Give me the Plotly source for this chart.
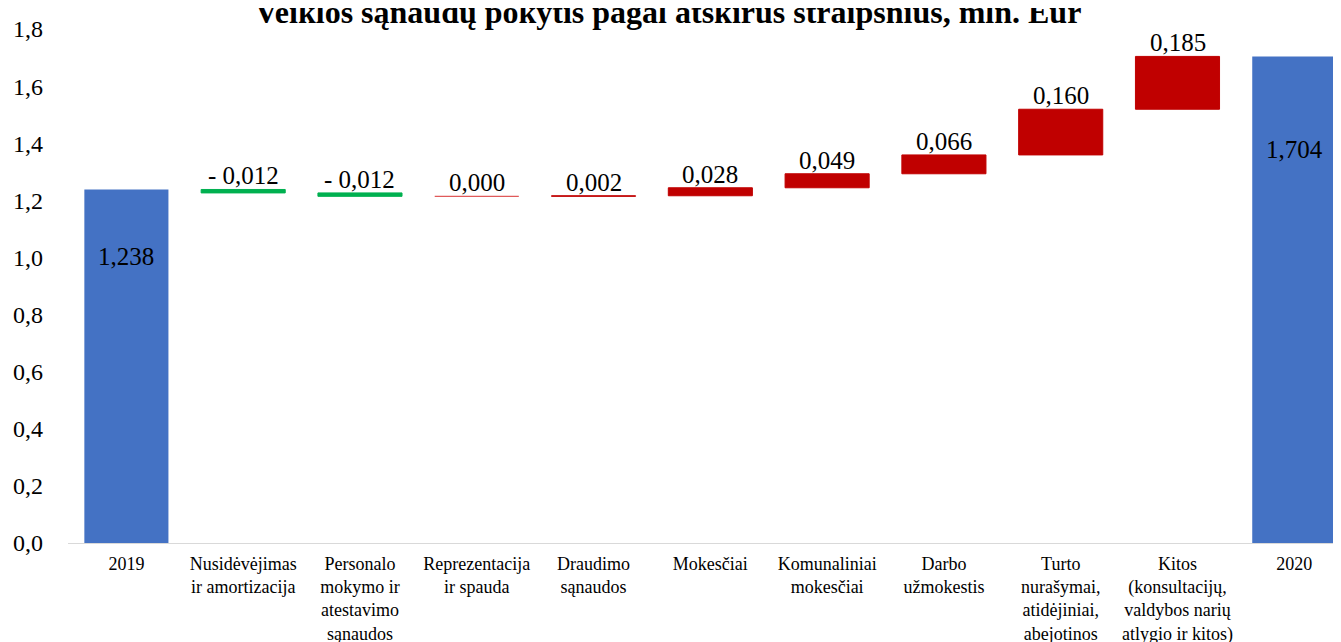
import plotly.graph_objects as go

categories = [
    "2019",
    "Nusidėvėjimas<br>ir amortizacija",
    "Personalo<br>mokymo ir<br>atestavimo<br>sąnaudos",
    "Reprezentacija<br>ir spauda",
    "Draudimo<br>sąnaudos",
    "Mokesčiai",
    "Komunaliniai<br>mokesčiai",
    "Darbo<br>užmokestis",
    "Turto<br>nurašymai,<br>atidėjiniai,<br>abejotinos",
    "Kitos<br>(konsultacijų,<br>valdybos narių<br>atlygio ir kitos)",
    "2020",
]
start_value = 1.238
changes = [-0.012, -0.012, 0.000, 0.002, 0.028, 0.049, 0.066, 0.160, 0.185]
end_value = 1.704

values = [start_value] + changes + [end_value]
measures = ["absolute"] + ["relative"] * len(changes) + ["total"]

BLUE = "#4472C4"
RED = "#C00000"
GREEN = "#00B050"
FONT = "Liberation Serif, Times New Roman, serif"
BAR_W = 0.72


def fmt(v):
    s = f"{abs(v):.3f}".replace(".", ",")
    return ("- " + s) if v < 0 else s


fig = go.Figure(
    go.Waterfall(
        x=list(range(len(categories))),
        y=values,
        measure=measures,
        width=BAR_W,
        connector=dict(visible=False),
        increasing=dict(marker=dict(color=RED, line=dict(color=RED, width=1))),
        decreasing=dict(marker=dict(color=GREEN, line=dict(color=GREEN, width=1))),
        totals=dict(marker=dict(color=BLUE, line=dict(width=0))),
        hoverinfo="skip",
        showlegend=False,
    )
)

# labels
lab_font = dict(size=25, color="black", family=FONT)
annotations = []
shapes = []
running = start_value
annotations.append(dict(x=0, y=start_value, text=fmt(start_value), showarrow=False,
                        yanchor="top", yshift=-52, font=lab_font))
for i, c in enumerate(changes, start=1):
    top = max(running, running + c)
    if abs(c) < 0.0005:
        # zero-height change drawn as a thin line at the running level
        shapes.append(dict(type="line", xref="x", yref="y",
                           x0=i - BAR_W / 2, x1=i + BAR_W / 2, y0=running, y1=running,
                           line=dict(color="#E05A5A", width=1.2)))
    running += c
    annotations.append(dict(x=i, y=top, text=fmt(c), showarrow=False,
                            yanchor="bottom", yshift=-2, font=lab_font))
annotations.append(dict(x=len(categories) - 1, y=running, text=fmt(running), showarrow=False,
                        yanchor="top", yshift=-78, font=lab_font))

fig.update_layout(
    width=1333,
    height=634,
    margin=dict(l=60, r=0, t=21, b=99),
    paper_bgcolor="white",
    plot_bgcolor="white",
    separators=", ",
    font=dict(family=FONT, color="black"),
    title=dict(
        text="<b>Veiklos sąnaudų pokytis pagal atskirus straipsnius, mln. Eur</b>",
        x=(668 - 8) / 1333, xanchor="center", y=1 - 4 / 634, yanchor="middle",
        font=dict(size=32, family=FONT, color="black"),
    ),
    annotations=annotations,
    shapes=shapes,
    xaxis=dict(
        range=[-0.5, 10.4],
        tickmode="array",
        tickvals=list(range(len(categories))),
        ticktext=categories,
        tickfont=dict(size=18, family=FONT, color="black"),
        showgrid=False,
        zeroline=False,
        showline=True,
        linecolor="#D9D9D9",
        linewidth=1,
        ticks="",
        tickangle=0,
        ticklabelstandoff=4,
        automargin=False,
    ),
    yaxis=dict(
        range=[0, 1.8],
        dtick=0.2,
        tickformat=".1f",
        tickfont=dict(size=24, family=FONT, color="black"),
        showgrid=False,
        zeroline=False,
        showline=False,
        ticks="",
        ticklabelstandoff=24,
        automargin=False,
    ),
)

fig.write_html("out.html")
